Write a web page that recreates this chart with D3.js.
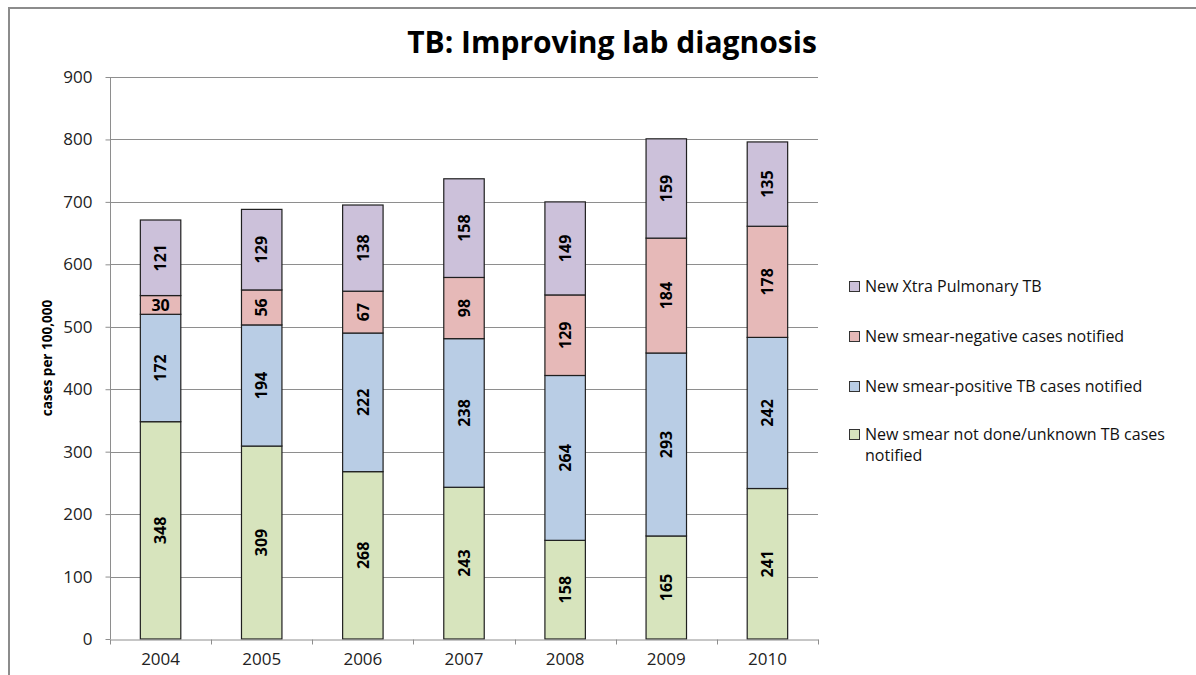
<!DOCTYPE html>
<html>
<head>
<meta charset="utf-8">
<script src="https://cdn.jsdelivr.net/npm/d3@7"></script>
<style>
  body { margin: 0; background: #fff; }
  svg { display: block; font-family: "Open Sans", "DejaVu Sans", sans-serif; }
</style>
</head>
<body>
<svg id="chart" width="1196" height="675"></svg>
<script>
// data
const years = ["2004", "2005", "2006", "2007", "2008", "2009", "2010"];
const notDone = [348, 309, 268, 243, 158, 165, 241];
const smearPos = [172, 194, 222, 238, 264, 293, 242];
const smearNeg = [30, 56, 67, 98, 129, 184, 178];
const xtraPulm = [121, 129, 138, 158, 149, 159, 135];
const yTicks = [0, 100, 200, 300, 400, 500, 600, 700, 800, 900];

const seriesNames = [
    "New smear not done/unknown TB cases notified",
    "New smear-positive TB cases notified",
    "New smear-negative cases notified",
    "New Xtra Pulmonary TB"
];
const seriesColors = ["#d7e4bd", "#b9cde5", "#e6b9b8", "#ccc1da"];

const svg = d3.select("#chart");

// outer frame
svg.append("path")
    .attr("d", "M9,676 V8 H1200")
    .attr("fill", "none")
    .attr("stroke", "#8c8c8c")
    .attr("stroke-width", 2);

const margin = { left: 110, top: 77, right: 818, bottom: 639 };

const x = d3.scaleBand()
    .domain(years)
    .range([margin.left, margin.right])
    .padding(0);

const y = d3.scaleLinear()
    .domain([0, 900])
    .range([margin.bottom, margin.top]);

// gridlines
svg.append("g")
    .selectAll("line")
    .data(yTicks.filter(d => d > 0))
    .join("line")
    .attr("x1", margin.left)
    .attr("x2", margin.right)
    .attr("y1", d => Math.round(y(d)) + 0.5)
    .attr("y2", d => Math.round(y(d)) + 0.5)
    .attr("stroke", "#8e8e8e")
    .attr("stroke-width", 1);

// stacked data
const table = years.map((yr, i) => ({
    year: yr,
    s0: notDone[i], s1: smearPos[i], s2: smearNeg[i], s3: xtraPulm[i]
}));
const stack = d3.stack().keys(["s0", "s1", "s2", "s3"])(table);

const barW = x.bandwidth() * 0.4;

const layers = svg.append("g")
    .selectAll("g")
    .data(stack)
    .join("g")
    .attr("fill", (d, i) => seriesColors[i]);

layers.selectAll("rect")
    .data(d => d)
    .join("rect")
    .attr("x", d => x(d.data.year) + (x.bandwidth() - barW) / 2)
    .attr("y", d => y(d[1]))
    .attr("width", barW)
    .attr("height", d => y(d[0]) - y(d[1]))
    .attr("stroke", "#1f1f1f")
    .attr("stroke-width", 1.2);

// data labels
layers.selectAll("text")
    .data(d => d)
    .join("text")
    .attr("transform", d => {
        const cx = x(d.data.year) + x.bandwidth() / 2;
        const cy = (y(d[0]) + y(d[1])) / 2;
        const h = y(d[0]) - y(d[1]);
        return h < 26 ? `translate(${cx},${cy})` : `translate(${cx},${cy}) rotate(-90)`;
    })
    .attr("text-anchor", "middle")
    .attr("dy", "0.36em")
    .attr("fill", "#000")
    .style("font-size", "16px")
    .style("font-weight", "bold")
    .text(d => d[1] - d[0]);

// y axis
const yAxis = svg.append("g")
    .attr("transform", `translate(${margin.left + 0.5},0)`)
    .call(d3.axisLeft(y).tickValues(yTicks).tickSize(5).tickPadding(13));
yAxis.select(".domain").attr("stroke", "#8e8e8e").attr("d", `M0,${margin.bottom}V${margin.top}`);
yAxis.selectAll(".tick line").attr("stroke", "#8e8e8e");
yAxis.selectAll(".tick text")
    .style("font-size", "17px")
    .style("font-family", "'Open Sans', sans-serif")
    .attr("fill", "#222");

// x axis
const xAxis = svg.append("g")
    .attr("transform", `translate(0,${margin.bottom + 0.5})`)
    .call(d3.axisBottom(x).tickSize(0).tickPadding(13));
xAxis.select(".domain").attr("stroke", "#8e8e8e");
xAxis.selectAll(".tick text")
    .style("font-size", "17px")
    .style("font-family", "'Open Sans', sans-serif")
    .attr("fill", "#222");
// category boundary ticks
xAxis.append("g")
    .selectAll("line")
    .data(years.concat(["end"]))
    .join("line")
    .attr("x1", (d, i) => Math.round(margin.left + i * x.step()) + 0.5)
    .attr("x2", (d, i) => Math.round(margin.left + i * x.step()) + 0.5)
    .attr("y1", 0)
    .attr("y2", 5)
    .attr("stroke", "#8e8e8e");

// y label
svg.append("text")
    .attr("transform", `translate(47,${(margin.top + margin.bottom) / 2}) rotate(-90)`)
    .attr("text-anchor", "middle")
    .attr("dy", "0.35em")
    .style("font-size", "13.5px")
    .style("font-weight", "bold")
    .attr("fill", "#000")
    .text("cases per 100,000");

// title
svg.append("text")
    .attr("x", 612)
    .attr("y", 53)
    .attr("text-anchor", "middle")
    .style("font-size", "30px")
    .style("font-weight", "bold")
    .attr("fill", "#000")
    .text("TB: Improving lab diagnosis");

// legend
const legendRows = [
    { i: 3, y: 286, lines: ["New Xtra Pulmonary TB"] },
    { i: 2, y: 336, lines: ["New smear-negative cases notified"] },
    { i: 1, y: 386, lines: ["New smear-positive TB cases notified"] },
    { i: 0, y: 434, lines: ["New smear not done/unknown TB cases", "notified"] }
];
const legend = svg.append("g")
    .selectAll("g")
    .data(legendRows)
    .join("g")
    .attr("transform", d => `translate(0,${d.y})`);
legend.append("rect")
    .attr("x", 849.5)
    .attr("y", -4.5)
    .attr("width", 10)
    .attr("height", 10)
    .attr("fill", d => seriesColors[d.i])
    .attr("stroke", "#333")
    .attr("stroke-width", 1);
legend.append("text")
    .style("font-size", "16px")
    .attr("fill", "#111")
    .selectAll("tspan")
    .data(d => d.lines)
    .join("tspan")
    .attr("x", 865)
    .attr("dy", (d, i) => i === 0 ? "0.35em" : "21px")
    .text(d => d);
</script>
</body>
</html>
